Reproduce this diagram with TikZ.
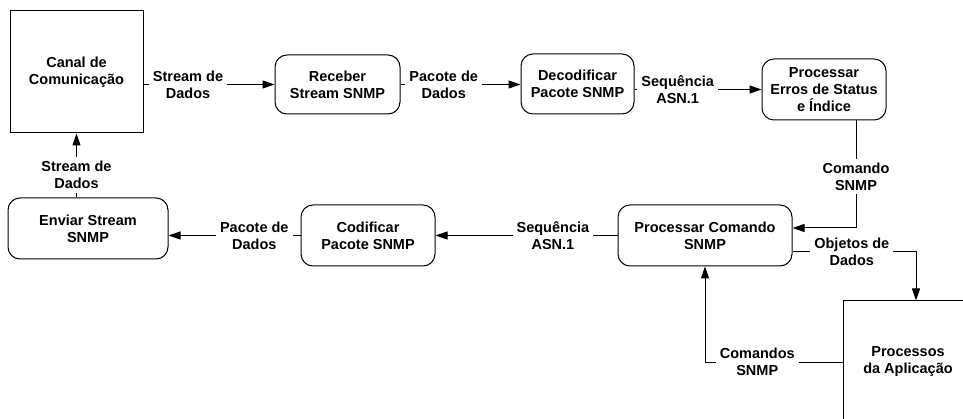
\documentclass[tikz,border=0pt]{standalone}
\usepackage{fontspec}
\setmainfont{Liberation Sans}
\usetikzlibrary{arrows.meta}

\begin{document}
\begin{tikzpicture}[x=1pt, y=-1pt, line width=1pt, >={Triangle[length=12pt,width=8pt]},
  font=\bfseries\fontsize{14.5}{17}\selectfont,
  proc node/.style={draw, rounded corners=12pt, minimum height=61pt, align=center, inner sep=0pt},
  ext node/.style={draw, minimum width=133pt, minimum height=122pt, align=center, inner sep=0pt},
  flow label/.style={fill=white, align=center, inner sep=4pt}]
\useasboundingbox (0,0) rectangle (963,419);
\clip (0,0) rectangle (963,419);
% processos e entidades externas
\node[ext node] (canal) at (76.5,72) {Canal de\\Comunica\c{c}\~ao};
\node[proc node, minimum width=125pt, minimum height=59pt] (receber) at (337.5,84.5) {Receber\\Stream SNMP};
\node[proc node, minimum width=113pt, minimum height=60pt] (decod) at (577.5,84) {Decodificar\\Pacote SNMP};
\node[proc node, minimum width=124pt] (erros) at (824,89.5) {Processar\\Erros de Status\\e \'Indice};
\node[proc node, minimum width=160pt] (enviar) at (88,228.5) {Enviar Stream\\SNMP};
\node[proc node, minimum width=134pt] (codif) at (368,235.5) {Codificar\\Pacote SNMP};
\node[proc node, minimum width=174pt] (comando) at (705,235.5) {Processar Comando\\SNMP};
\node[ext node, minimum width=130pt] (aplic) at (908,362) {Processos\\da Aplica\c{c}\~ao};
% fluxos de dados
\draw[->] (receber.west -| canal.east) -- node[flow label, pos=.34]{Stream de\\Dados} (receber.west);
\draw[->] (receber.east) -- node[flow label, pos=.36]{Pacote de\\Dados} (receber.east -| decod.west);
\draw[->] (decod.east |- erros.west) -- node[flow label, pos=.34]{Sequ\^encia\\ASN.1} (erros.west);
\draw[->] ([xshift=32pt]erros.south) |- node[flow label, pos=.26]{Comando\\SNMP} ([yshift=7.5pt]comando.east);
\draw[->] (comando.west) -- node[flow label, pos=.355]{Sequ\^encia\\ASN.1} (codif.east);
\draw[->] (codif.west) -- node[flow label, pos=.35]{Pacote de\\Dados} (codif.west -| enviar.east);
\draw[->] (enviar.north -| canal.south) -- node[flow label, pos=.35]{Stream de\\Dados} (canal.south);
\draw[->] ([yshift=-16pt]comando.east) -| node[flow label, pos=.24]{Objetos de\\Dados} ([xshift=8pt]aplic.north);
\draw[->] (aplic.west) -| node[flow label, pos=.31]{Comandos\\SNMP} (comando.south);
\end{tikzpicture}
\end{document}
